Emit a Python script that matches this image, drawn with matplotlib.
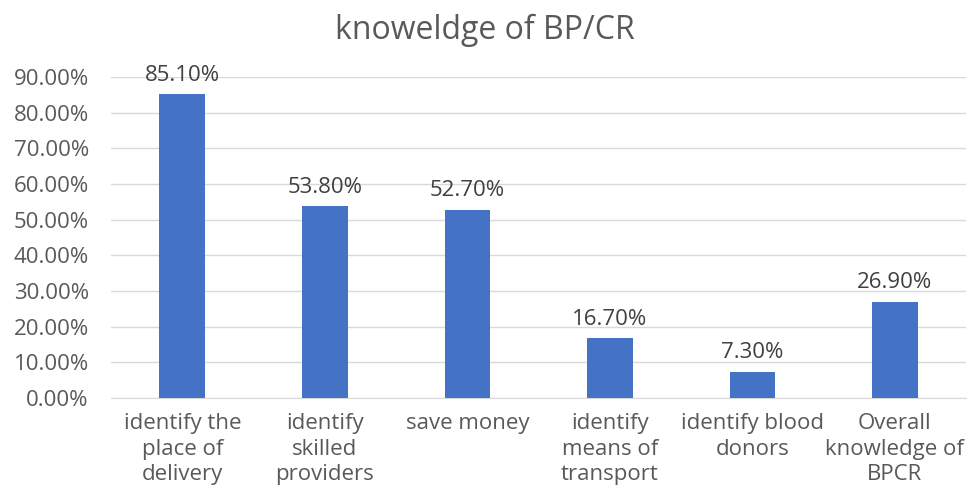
import matplotlib.pyplot as plt
from matplotlib.ticker import FuncFormatter

plt.rcParams['font.family'] = ['Open Sans', 'DejaVu Sans']

categories = ['identify the\nplace of\ndelivery', 'identify\nskilled\nproviders', 'save money',
              'identify\nmeans of\ntransport', 'identify blood\ndonors', 'Overall\nknowledge of\nBPCR']
values = [85.10, 53.80, 52.70, 16.70, 7.30, 26.90]
labels = ['85.10%', '53.80%', '52.70%', '16.70%', '7.30%', '26.90%']

fig = plt.figure(figsize=(9.69, 4.87), dpi=100)
ax = fig.add_axes([0.1146, 0.1828, 0.8824, 0.6592])

x = range(len(values))
bars = ax.bar(x, values, width=0.32, color='#4472C4', zorder=3)
for b, lab in zip(bars, labels):
    ax.text(b.get_x() + b.get_width() / 2, b.get_height() + 2.4, lab,
            ha='center', va='bottom', fontsize=16, color='#404040')

ax.set_xlim(-0.5, len(values) - 0.5)
ax.set_ylim(0, 90)
ax.set_yticks(range(0, 91, 10))
ax.yaxis.set_major_formatter(FuncFormatter(lambda v, p: f'{v:.2f}%'))
ax.set_xticks(list(x))
ax.set_xticklabels(categories, linespacing=1.28)
ax.tick_params(axis='both', length=0, labelsize=16, labelcolor='#595959')
ax.tick_params(axis='x', pad=11)
ax.tick_params(axis='y', pad=16)
ax.grid(axis='y', color='#D9D9D9', linewidth=1, zorder=0)
for s in ['top', 'right', 'left']:
    ax.spines[s].set_visible(False)
ax.spines['bottom'].set_color('#D9D9D9')

fig.text(0.5, 0.937, 'knoweldge of BP/CR', ha='center', va='center', fontsize=23, color='#595959')

fig.savefig('out.png', dpi=100)
